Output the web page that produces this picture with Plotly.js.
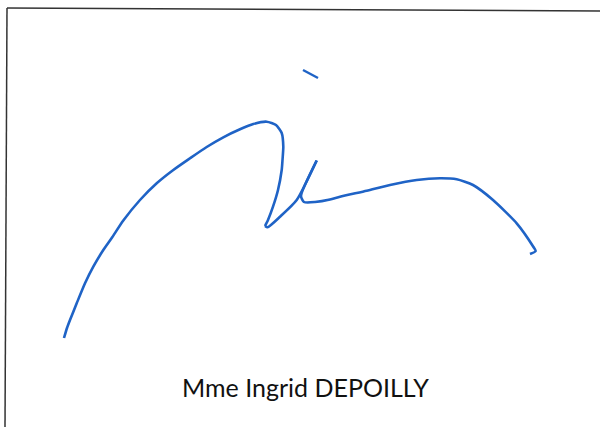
<!DOCTYPE html>
<html>
<head>
<meta charset="utf-8">
<script src="https://cdn.plot.ly/plotly-3.0.1.min.js"></script>
<style>html,body{margin:0;padding:0;background:#fff;}#chart{width:600px;height:427px;}</style>
</head>
<body>
<div id="chart"></div>
<script>
// Signature strokes (pixel-space coordinates), split at sharp corners
const arcX = [64, 67, 70, 76.7, 85, 93.3, 103.3, 111.7, 123.3, 140, 156.7, 173.3, 190, 206.7, 223.3, 240, 253.3, 266.7, 276, 281.7, 283.3, 282.5, 281.7, 278, 273, 268, 265];
const arcY = [338, 328, 320, 303.3, 283.3, 266.7, 250, 238, 220.5, 200, 183.3, 170, 158.3, 147, 137.3, 129.3, 124, 121.7, 125, 133, 146.7, 160, 170, 190, 206.7, 220, 226];
const upX = [265, 267.5, 280, 296.7, 316.7];
const upY = [226, 227.3, 216.7, 200, 160.5];
const tailX = [316.7, 301, 304, 315, 330, 340, 366.7, 390, 416.7, 440, 456.7, 473, 493, 516.7, 533.3, 535.7, 530];
const tailY = [160.5, 196, 202, 202, 199.5, 196.7, 190.7, 185, 180, 178.3, 179.3, 185, 200, 223.3, 246.7, 251, 254];
// Dot of the "i"
const dotX = [303, 318];
const dotY = [70, 78];
// Frame lines
const frameX = [7, 600];
const frameTopY = [8, 11];
const frameLeftX = [7, 5];
const frameLeftY = [8, 427];
const nameLabel = "Mme Ingrid DEPOILLY";

const blue = "#1f63c6";
function stroke(x, y) {
  return {x: x, y: y, mode: "lines", line: {color: blue, width: 2.6, shape: "spline", smoothing: 0.6}, hoverinfo: "skip"};
}
const traces = [
  {x: frameX, y: frameTopY, mode: "lines", line: {color: "#333", width: 1.5}, hoverinfo: "skip"},
  {x: frameLeftX, y: frameLeftY, mode: "lines", line: {color: "#333", width: 1.5}, hoverinfo: "skip"},
  stroke(arcX, arcY),
  stroke(upX, upY),
  stroke(tailX, tailY),
  {x: dotX, y: dotY, mode: "lines", line: {color: blue, width: 2.4}, hoverinfo: "skip"}
];
const layout = {
  width: 600, height: 427,
  margin: {l: 0, r: 0, t: 0, b: 0},
  paper_bgcolor: "#fff", plot_bgcolor: "#fff",
  showlegend: false,
  xaxis: {range: [0, 600], visible: false, fixedrange: true},
  yaxis: {range: [427, 0], visible: false, fixedrange: true},
  annotations: [{
    x: 305, y: 387, xref: "x", yref: "y", text: nameLabel, showarrow: false,
    font: {family: "Lato, 'Open Sans', sans-serif", size: 25, color: "#111"},
    xanchor: "center", yanchor: "middle"
  }]
};
Plotly.newPlot("chart", traces, layout, {staticPlot: true, displayModeBar: false});
</script>
</body>
</html>
